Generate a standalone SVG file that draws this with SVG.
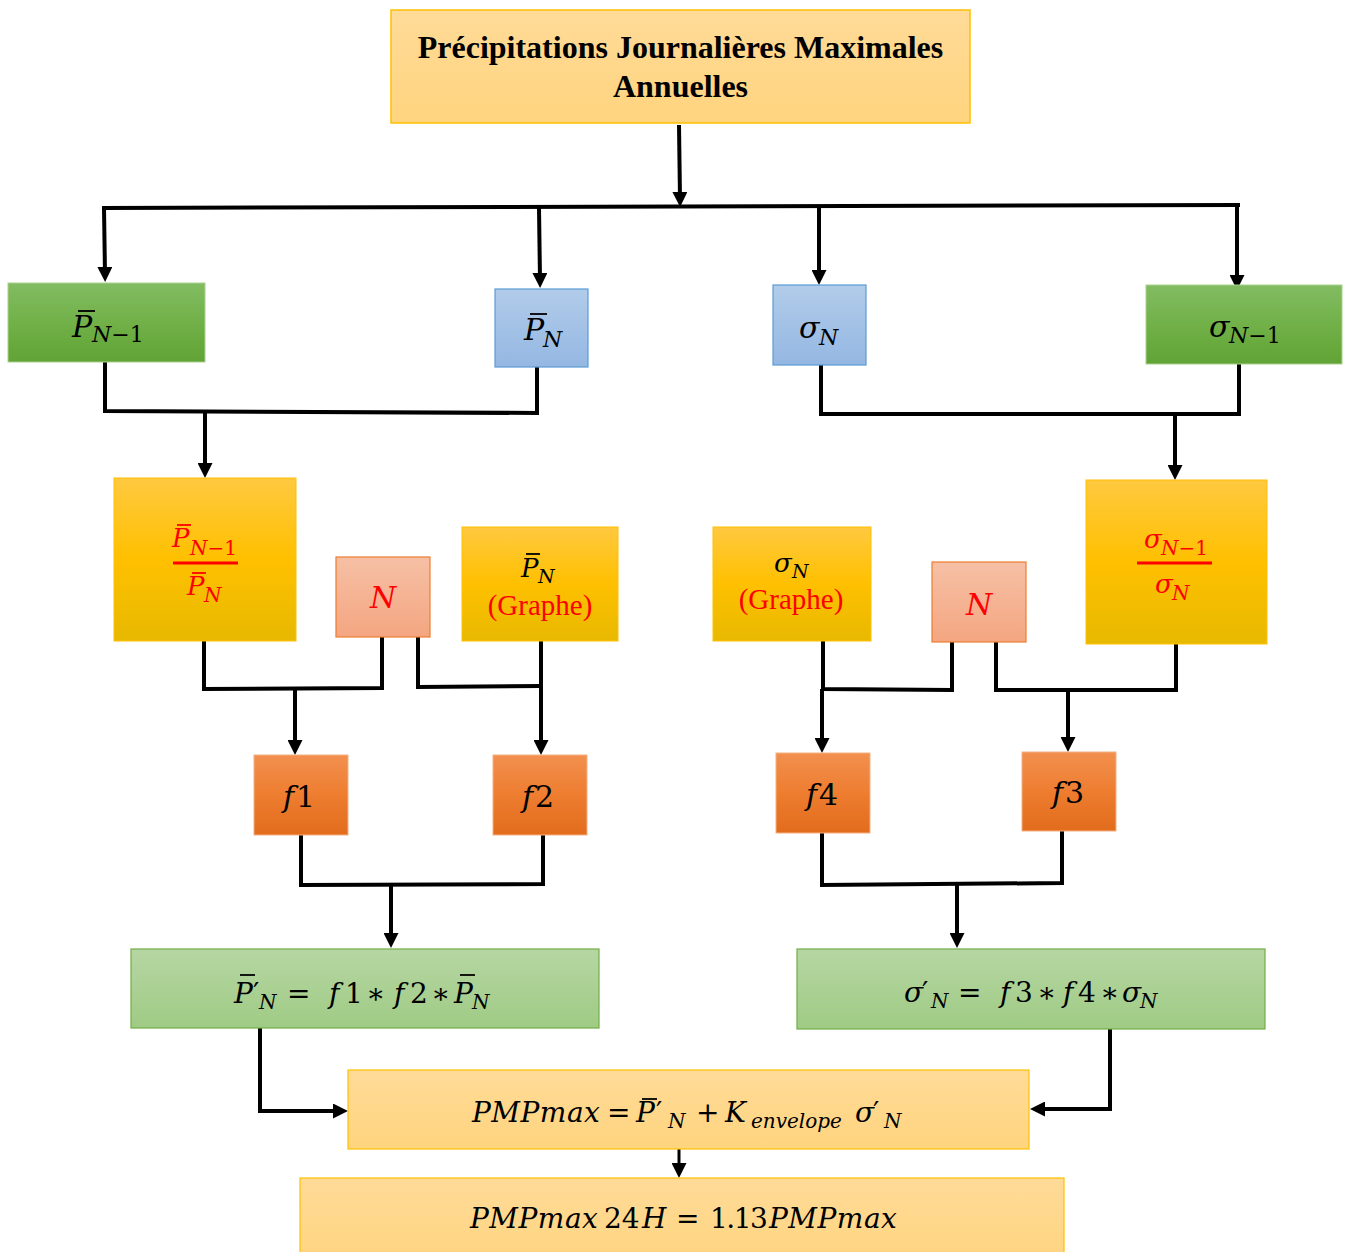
<svg xmlns="http://www.w3.org/2000/svg" width="1346" height="1252" viewBox="0 0 1346 1252">
<style>
.m{font-family:"DejaVu Serif","Liberation Serif",serif;font-style:italic;fill:#000}
.u{font-style:normal}
.red{fill:#FF0000}
.title{font-family:"Liberation Serif","Times New Roman",serif;font-weight:bold;font-size:32px;fill:#000}
.gr{font-family:"Liberation Serif","Times New Roman",serif;font-size:29px;fill:#FF0000}
.bar{stroke:#000;stroke-width:1.8}
.rbar{stroke:#FF0000;stroke-width:1.8}
.c{fill:none;stroke:#000;stroke-width:4;stroke-linejoin:miter}
.ca{fill:none;stroke:#000;stroke-width:4;marker-end:url(#ah)}
.w{letter-spacing:0.5px}
.t{letter-spacing:-1.5px}
</style>
<defs>
<linearGradient id="gLo" x1="0" y1="0" x2="0" y2="1"><stop offset="0" stop-color="#FFDB98"/><stop offset="1" stop-color="#FFD47E"/></linearGradient>
<linearGradient id="gGr" x1="0" y1="0" x2="0" y2="1"><stop offset="0" stop-color="#82BC62"/><stop offset="0.5" stop-color="#71B148"/><stop offset="1" stop-color="#61A336"/></linearGradient>
<linearGradient id="gBl" x1="0" y1="0" x2="0" y2="1"><stop offset="0" stop-color="#B2CCEA"/><stop offset="1" stop-color="#94B7E2"/></linearGradient>
<linearGradient id="gYe" x1="0" y1="0" x2="0" y2="1"><stop offset="0" stop-color="#FFC940"/><stop offset="0.5" stop-color="#FFC000"/><stop offset="1" stop-color="#E7B900"/></linearGradient>
<linearGradient id="gSa" x1="0" y1="0" x2="0" y2="1"><stop offset="0" stop-color="#F6C0A5"/><stop offset="1" stop-color="#F4A681"/></linearGradient>
<linearGradient id="gOr" x1="0" y1="0" x2="0" y2="1"><stop offset="0" stop-color="#F2904F"/><stop offset="0.5" stop-color="#EE7D30"/><stop offset="1" stop-color="#E26C1C"/></linearGradient>
<linearGradient id="gLg" x1="0" y1="0" x2="0" y2="1"><stop offset="0" stop-color="#B6D6A3"/><stop offset="1" stop-color="#9FCB84"/></linearGradient>
<marker id="ah" markerWidth="15" markerHeight="15" refX="7" refY="7.5" orient="auto" markerUnits="userSpaceOnUse"><path d="M0,0 L15,7.5 L0,15 z" fill="#000"/></marker>
</defs>
<rect width="1346" height="1252" fill="#fff"/>

<g id="connectors">
<path class="ca" d="M679,125 L680,199"/>
<path class="c" d="M102,208 L1240,205"/>
<path class="ca" d="M104,208 L105,274"/>
<path class="ca" d="M539,208 L540,280"/>
<path class="ca" d="M819,207 L819,277"/>
<path class="ca" d="M1237,205 L1237,282"/>
<path class="c" d="M105,362 L105,411 L537,413 L537,367"/>
<path class="ca" d="M205,412 L205,470"/>
<path class="c" d="M821,365 L821,414 L1239,414 L1239,364"/>
<path class="ca" d="M1175,414 L1175,472"/>
<path class="c" d="M204,641 L204,689 L382,688 L382,637"/>
<path class="ca" d="M295,689 L295,747"/>
<path class="c" d="M418,637 L418,687 L541,686"/>
<path class="ca" d="M541,641 L541,747"/>
<path class="c" d="M823,641 L823,689 L952,690 L952,642"/>
<path class="ca" d="M822,689 L822,745"/>
<path class="c" d="M996,642 L996,690 L1176,690 L1176,644"/>
<path class="ca" d="M1068,690 L1068,744"/>
<path class="c" d="M301,835 L301,885 L543,884 L543,835"/>
<path class="ca" d="M391,885 L391,940"/>
<path class="c" d="M822,833 L822,885 L1062,883 L1062,831"/>
<path class="ca" d="M957,884 L957,940"/>
<path class="ca" d="M260,1028 L260,1111 L340,1111"/>
<path class="ca" d="M1110,1029 L1110,1109 L1038,1109"/>
<path class="ca" d="M679,1149 L679,1170" style="stroke-width:3"/>
</g>

<g id="n-top">
<rect x="391" y="10" width="579" height="113" fill="url(#gLo)" stroke="#FFC000" stroke-width="1.5"/>
<text class="title" x="680.5" y="58" text-anchor="middle">Précipitations Journalières Maximales</text>
<text class="title" x="680.5" y="97" text-anchor="middle">Annuelles</text>
</g>

<g id="n-pn1">
<rect x="8" y="283" width="197" height="79" fill="url(#gGr)" stroke="#A9D18E" stroke-width="1"/>
<text class="m" font-size="30" x="72" y="337">P</text>
<text class="m" font-size="22" x="92" y="342">N<tspan class="u">−1</tspan></text>
<line class="bar" x1="78" y1="311" x2="95" y2="311"/>
</g>

<g id="n-pn">
<rect x="495" y="289" width="93" height="78" fill="url(#gBl)" stroke="#5B9BD5" stroke-width="1.2"/>
<text class="m" font-size="30" x="524" y="340">P</text>
<text class="m" font-size="22" x="543" y="347">N</text>
<line class="bar" x1="530" y1="314" x2="547" y2="314"/>
</g>

<g id="n-sn">
<rect x="773" y="285" width="93" height="80" fill="url(#gBl)" stroke="#5B9BD5" stroke-width="1.2"/>
<text class="m" font-size="30" x="799" y="338">σ</text>
<text class="m" font-size="22" x="819" y="345">N</text>
</g>

<g id="n-sn1">
<rect x="1146" y="285" width="196" height="79" fill="url(#gGr)" stroke="#A9D18E" stroke-width="1"/>
<text class="m" font-size="30" x="1209" y="337">σ</text>
<text class="m" font-size="22" x="1229" y="343">N<tspan class="u">−1</tspan></text>
</g>

<g id="n-fracp">
<rect x="114" y="478" width="182" height="163" fill="url(#gYe)" stroke="#FFC000" stroke-width="1"/>
<text class="m red" font-size="26" x="172" y="547">P</text>
<text class="m red" font-size="20" x="190" y="555">N<tspan class="u">−1</tspan></text>
<line class="rbar" x1="177" y1="525" x2="191" y2="525"/>
<line x1="173" y1="563" x2="238" y2="563" stroke="#FF0000" stroke-width="3"/>
<text class="m red" font-size="26" x="187" y="595">P</text>
<text class="m red" font-size="20" x="204" y="602">N</text>
<line class="rbar" x1="192" y1="573" x2="206" y2="573"/>
</g>

<g id="n-N1">
<rect x="336" y="557" width="94" height="80" fill="url(#gSa)" stroke="#ED7D31" stroke-width="1.2"/>
<text class="m red" font-size="30" x="383" y="608" text-anchor="middle">N</text>
</g>

<g id="n-pgraph">
<rect x="462" y="527" width="156" height="114" fill="url(#gYe)" stroke="#FFC000" stroke-width="1"/>
<text class="m" font-size="26" x="521" y="577">P</text>
<text class="m" font-size="19" x="538" y="583">N</text>
<line class="bar" x1="526" y1="554" x2="540" y2="554"/>
<text class="gr" x="540" y="615" text-anchor="middle">(Graphe)</text>
</g>

<g id="n-sgraph">
<rect x="713" y="527" width="158" height="114" fill="url(#gYe)" stroke="#FFC000" stroke-width="1"/>
<text class="m" font-size="26" x="774" y="572">σ</text>
<text class="m" font-size="19" x="792" y="578">N</text>
<text class="gr" x="791" y="609" text-anchor="middle">(Graphe)</text>
</g>

<g id="n-N2">
<rect x="932" y="562" width="94" height="80" fill="url(#gSa)" stroke="#ED7D31" stroke-width="1.2"/>
<text class="m red" font-size="30" x="979" y="615" text-anchor="middle">N</text>
</g>

<g id="n-fracs">
<rect x="1086" y="480" width="181" height="164" fill="url(#gYe)" stroke="#FFC000" stroke-width="1"/>
<text class="m red" font-size="26" x="1144" y="548">σ</text>
<text class="m red" font-size="20" x="1161" y="555">N<tspan class="u">−1</tspan></text>
<line x1="1137" y1="563" x2="1212" y2="563" stroke="#FF0000" stroke-width="3"/>
<text class="m red" font-size="26" x="1155" y="593">σ</text>
<text class="m red" font-size="20" x="1172" y="600">N</text>
</g>

<g id="n-f1">
<rect x="254" y="755" width="94" height="80" fill="url(#gOr)" stroke="#F4B183" stroke-width="1"/>
<text class="m" font-size="30" x="283" y="807">f<tspan class="u" dx="2">1</tspan></text>
</g>
<g id="n-f2">
<rect x="493" y="755" width="94" height="80" fill="url(#gOr)" stroke="#F4B183" stroke-width="1"/>
<text class="m" font-size="30" x="522" y="807">f<tspan class="u" dx="2">2</tspan></text>
</g>
<g id="n-f4">
<rect x="776" y="753" width="94" height="80" fill="url(#gOr)" stroke="#F4B183" stroke-width="1"/>
<text class="m" font-size="30" x="806" y="805">f<tspan class="u" dx="2">4</tspan></text>
</g>
<g id="n-f3">
<rect x="1022" y="752" width="94" height="79" fill="url(#gOr)" stroke="#F4B183" stroke-width="1"/>
<text class="m" font-size="30" x="1052" y="803">f<tspan class="u" dx="2">3</tspan></text>
</g>

<g id="n-pprime">
<rect x="131" y="949" width="468" height="79" fill="url(#gLg)" stroke="#70AD47" stroke-width="1.2"/>
<text class="m" font-size="28" y="1003"><tspan x="234">P</tspan><tspan x="253" class="u">′</tspan><tspan x="287" class="u">=</tspan><tspan x="329">f</tspan><tspan x="345" class="u">1</tspan><tspan x="366" class="u">∗</tspan><tspan x="394">f</tspan><tspan x="410" class="u">2</tspan><tspan x="431" class="u">∗</tspan><tspan x="454">P</tspan></text>
<text class="m" font-size="20" y="1009"><tspan x="259">N</tspan><tspan x="472">N</tspan></text>
<line class="bar" x1="240" y1="975" x2="255" y2="975"/>
<line class="bar" x1="460" y1="975" x2="475" y2="975"/>
</g>

<g id="n-sprime">
<rect x="797" y="949" width="468" height="80" fill="url(#gLg)" stroke="#70AD47" stroke-width="1.2"/>
<text class="m" font-size="28" y="1002"><tspan x="904">σ</tspan><tspan x="922" class="u">′</tspan><tspan x="958" class="u">=</tspan><tspan x="1000">f</tspan><tspan x="1015" class="u">3</tspan><tspan x="1037" class="u">∗</tspan><tspan x="1063">f</tspan><tspan x="1078" class="u">4</tspan><tspan x="1100" class="u">∗</tspan><tspan x="1122">σ</tspan></text>
<text class="m" font-size="20" y="1008"><tspan x="931">N</tspan><tspan x="1140">N</tspan></text>
</g>

<g id="n-pmp">
<rect x="348" y="1070" width="681" height="79" fill="url(#gLo)" stroke="#FFC000" stroke-width="1.2"/>
<text class="m" font-size="28" y="1122"><tspan x="472" class="w">PMPmax</tspan><tspan x="607" class="u">=</tspan><tspan x="636">P</tspan><tspan x="656" class="u">′</tspan><tspan x="696" class="u">+</tspan><tspan x="725">K</tspan><tspan x="855">σ</tspan><tspan x="873" class="u">′</tspan></text>
<text class="m" font-size="20" y="1128"><tspan x="668">N</tspan><tspan x="751">envelope</tspan><tspan x="884">N</tspan></text>
<line class="bar" x1="642" y1="1099" x2="657" y2="1099"/>
</g>

<g id="n-pmp24">
<rect x="300" y="1178" width="764" height="90" fill="url(#gLo)" stroke="#FFC000" stroke-width="1.2"/>
<text class="m" font-size="28" y="1228"><tspan x="470" class="w">PMPmax</tspan><tspan x="604" class="u">24</tspan><tspan x="642">H</tspan><tspan x="676" class="u">=</tspan><tspan x="710" class="u t">1.13</tspan><tspan x="769" class="w">PMPmax</tspan></text>
</g>
</svg>
